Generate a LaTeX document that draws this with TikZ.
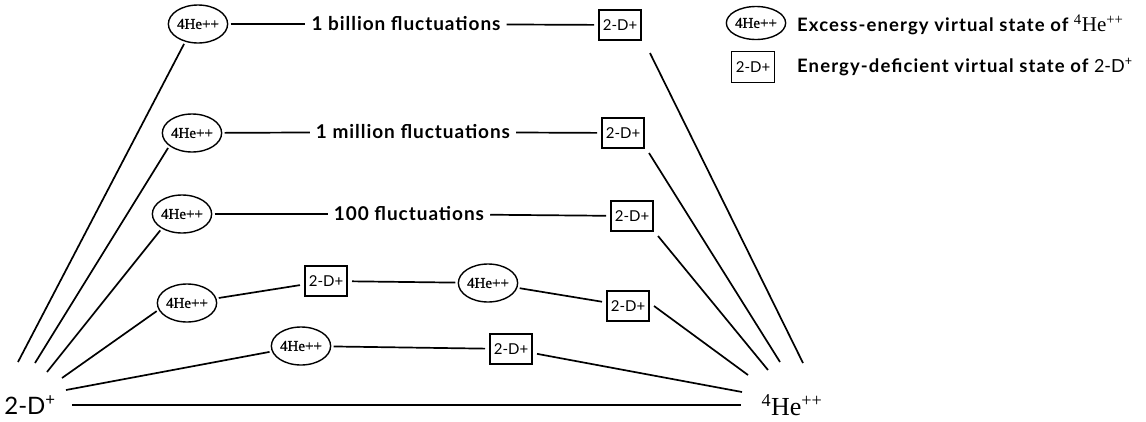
\documentclass[tikz,border=0pt]{standalone}
\usepackage{fontspec}
\usetikzlibrary{shapes.geometric}
\newfontfamily\labelfont{Lato}
\newfontfamily\countfont[LetterSpace=5]{Lato}
\newfontfamily\legendfont[LetterSpace=6]{Lato}
\newfontfamily\heliumfont{Liberation Serif}
\newfontfamily\heliumnode[FakeBold=1]{Liberation Serif}

\begin{document}
\begin{tikzpicture}[x=1pt,y=1pt,
  link/.style={line width=1.7pt},
  excited/.style={draw, ellipse, line width=1.4pt, minimum width=57pt, minimum height=38pt,
    inner sep=0pt, outer sep=3pt, font=\heliumnode\fontsize{15}{15}\selectfont},
  deficient/.style={draw, rectangle, line width=1.4pt, minimum width=42pt, minimum height=30pt,
    inner sep=0pt, outer sep=5pt, font=\labelfont\fontsize{15}{15}\selectfont},
  count/.style={inner sep=6pt, font=\countfont\bfseries\fontsize{19}{19}\selectfont},
  legendtext/.style={anchor=west, inner sep=0pt, font=\legendfont\bfseries\fontsize{18.5}{18.5}\selectfont},
  endlabel/.style={inner sep=2pt},
]
\useasboundingbox (0,0) rectangle (1146,-421);

% end states
\node[endlabel, font=\labelfont\fontsize{24}{24}\selectfont] (D) at (30,-405) {2-D\textsuperscript{+}};
\node[endlabel, font=\heliumfont\fontsize{26}{26}\selectfont] (He) at (792,-405) {\textsuperscript{4}He\textsuperscript{++}};

% 1 billion fluctuations
\node[excited]   (E1) at (198,-24)  {4He++};
\node[count]     (T1) at (406,-24)  {1 billion fluctuations};
\node[deficient] (B1) at (620,-25)  {2-D+};
% 1 million fluctuations
\node[excited]   (E2) at (192,-133) {4He++};
\node[count]     (T2) at (413,-132) {1 million fluctuations};
\node[deficient] (B2) at (623,-133) {2-D+};
% 100 fluctuations
\node[excited]   (E3) at (182,-214) {4He++};
\node[count]     (T3) at (409,-214) {100 fluctuations};
\node[deficient] (B3) at (632,-216) {2-D+};
% two fluctuations
\node[excited]   (E4)  at (187,-303) {4He++};
\node[deficient] (B4)  at (326,-281) {2-D+};
\node[excited]   (E4b) at (488,-283) {4He++};
\node[deficient] (B4b) at (628,-306) {2-D+};
% one fluctuation
\node[excited]   (E5) at (301,-346) {4He++};
\node[deficient] (B5) at (511,-349) {2-D+};

% free ends of the fans
\coordinate (L1) at (18,-362);
\coordinate (L2) at (35,-363);
\coordinate (L3) at (47,-372);
\coordinate (L4) at (62,-378);
\coordinate (L5) at (66,-390);
\coordinate (R1) at (803,-363);
\coordinate (R2) at (780,-362);
\coordinate (R3) at (768,-370);
\coordinate (R4) at (748,-375);
\coordinate (R5) at (742,-392);

% rows
\draw[link] (E1) -- (T1);  \draw[link] (T1) -- (B1);
\draw[link] (E2) -- (T2);  \draw[link] (T2) -- (B2);
\draw[link] (E3) -- (T3);  \draw[link] (T3) -- (B3);
\draw[link] (E4) -- (B4) -- (E4b) -- (B4b);
\draw[link] (E5) -- (B5);

% left fan
\draw[link] (E1.235) -- (L1);
\draw[link] (E2.212) -- (L2);
\draw[link] (E3.217) -- (L3);
\draw[link] (E4.195) -- (L4);
\draw[link] (E5) -- (L5);
% right fan
\draw[link, shorten <=9pt] (B1.south east) -- (R1);
\draw[link] (B2.south east) -- (R2);
\draw[link] (B3.south east) -- (R3);
\draw[link] (B4b.east) -- (R4);
\draw[link] (B5) -- (R5);
% direct path
\draw[link, shorten <=14pt, shorten >=18pt] (D.east) -- (He.west);

% legend
\node[excited, minimum width=58pt, minimum height=33pt] (LE) at (756,-23) {4He++};
\node[deficient, minimum width=43pt, minimum height=31pt] (LB) at (753,-67) {2-D+};
\node[legendtext] (LEt) at (797,-25) {Excess-energy virtual state of {\heliumfont\mdseries\fontsize{21}{21}\selectfont\textsuperscript{4}He\textsuperscript{++}}};
\node[legendtext] (LBt) at (797,-67) {Energy-deficient virtual state of {\labelfont\mdseries\fontsize{18}{18}\selectfont 2-D\textsuperscript{+}}};
\end{tikzpicture}
\end{document}
